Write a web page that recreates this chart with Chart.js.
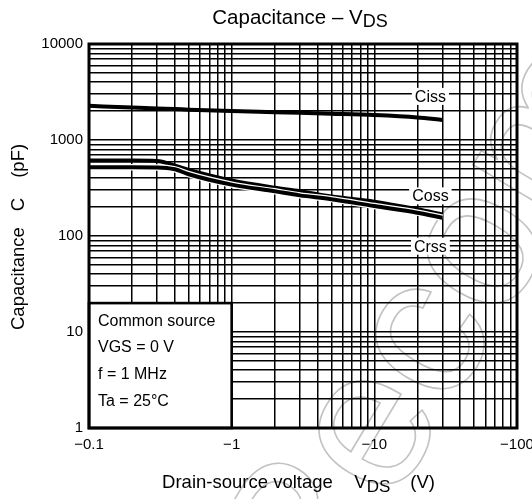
<!DOCTYPE html>
<html>
<head>
<meta charset="utf-8">
<script src="https://cdn.jsdelivr.net/npm/chart.js@4"></script>
<style>
  html, body { margin: 0; padding: 0; background: #fff; }
  canvas { display: block; }
</style>
</head>
<body>
<canvas id="chart" width="532" height="499"></canvas>
<script>
// Drain-source voltage (V) at which the capacitances are read
const vds  = [-0.1, -0.2, -0.3, -0.4, -0.5, -1, -2, -3, -5, -10, -20, -30];
// Capacitances (pF)
const ciss = [2270, 2180, 2130, 2100, 2070, 2000, 1950, 1920, 1880, 1820, 1720, 1620];
const coss = [610, 610, 605, 540, 488, 378, 318, 293, 258, 228, 190, 168];
const crss = [520, 520, 518, 495, 440, 343, 292, 265, 242, 205, 175, 155];

const seriesNames = ['Ciss', 'Coss', 'Crss'];

// Axis decades and their labels
const xMajor = [0.1, 1, 10, 100];
const xTickLabels = ['\u22120.1', '\u22121', '\u221210', '\u2212100'];
const yMajor = [1, 10, 100, 1000, 10000];
const yTickLabels = ['1', '10', '100', '1000', '10000'];

// Measurement conditions
const conditions = ['Common source', 'VGS = 0 V', 'f = 1 MHz', 'Ta = 25\u00B0C'];
const conditionBox = { xFrom: -0.1, xTo: -1, yFrom: 1, yTo: 20 };

const FONT = '"Liberation Sans", Arial, Helvetica, sans-serif';

// 1..9 grid lines in every decade
function decadeGrid(major) {
  const out = [];
  for (let i = 0; i < major.length - 1; i++) {
    for (let m = 1; m <= 9; m++) out.push(Number((m * major[i]).toPrecision(6)));
  }
  out.push(major[major.length - 1]);
  return out;
}
const xGrid = decadeGrid(xMajor);
const yGrid = decadeGrid(yMajor);

function labelFor(value, major, labels) {
  for (let i = 0; i < major.length; i++) {
    if (Math.abs(Math.log10(value) - Math.log10(major[i])) < 1e-9) return labels[i];
  }
  return '';
}

const toPoints = arr => vds.map((v, i) => ({ x: -v, y: arr[i] }));

const lineStyle = {
  borderColor: '#000',
  borderWidth: 4,
  pointRadius: 0,
  fill: false,
  cubicInterpolationMode: 'monotone'
};

function drawPieces(ctx, pieces, startX, baseline) {
  let x = startX;
  for (const p of pieces) {
    if (p.gap) { x += p.gap; continue; }
    ctx.font = p.size + 'px ' + FONT;
    ctx.fillText(p.t, x, baseline + (p.drop || 0));
    x += ctx.measureText(p.t).width;
  }
}
function piecesWidth(ctx, pieces) {
  let w = 0;
  for (const p of pieces) {
    if (p.gap) { w += p.gap; continue; }
    ctx.font = p.size + 'px ' + FONT;
    w += ctx.measureText(p.t).width;
  }
  return w;
}

const decor = {
  id: 'decor',
  beforeDraw(chart) {
    const ctx = chart.ctx;
    ctx.save();
    ctx.fillStyle = '#fff';
    ctx.fillRect(0, 0, chart.width, chart.height);
    // outlined background lettering
    ctx.translate(316, 631);
    ctx.rotate(-59 * Math.PI / 180);
    ctx.font = '200px ' + FONT;
    ctx.strokeStyle = '#c2c2c2';
    ctx.lineWidth = 1.6;
    ctx.strokeText('Recommended', 0, 0);
    ctx.restore();
  },
  beforeDatasetsDraw(chart) {
    const ctx = chart.ctx;
    const xs = chart.scales.x, ys = chart.scales.y;
    const l = xs.getPixelForValue(-conditionBox.xFrom);
    const r = xs.getPixelForValue(-conditionBox.xTo);
    const t = ys.getPixelForValue(conditionBox.yTo);
    const b = ys.getPixelForValue(conditionBox.yFrom);
    ctx.save();
    ctx.fillStyle = '#fff';
    ctx.fillRect(l, t, r - l, b - t);
    ctx.strokeStyle = '#000';
    ctx.lineWidth = 2.6;
    ctx.strokeRect(l, t, r - l, b - t);
    ctx.fillStyle = '#000';
    ctx.font = '16px ' + FONT;
    ctx.textAlign = 'left';
    ctx.textBaseline = 'alphabetic';
    conditions.forEach((s, i) => ctx.fillText(s, l + 9, t + 22.5 + i * 26.7));
    ctx.restore();
  },
  afterDatasetsDraw(chart) {
    const ctx = chart.ctx;
    const a = chart.chartArea;
    const xs = chart.scales.x, ys = chart.scales.y;
    ctx.save();
    // frame
    ctx.strokeStyle = '#000';
    ctx.lineWidth = 3;
    ctx.strokeRect(a.left, a.top, a.right - a.left, a.bottom - a.top);
    // curve names near the curve ends
    const last = vds.length - 1;
    const ends = [ciss[last], coss[last], crss[last]];
    const offsets = [-18, -13, 34];
    const endX = xs.getPixelForValue(-vds[last]);
    ctx.font = '16px ' + FONT;
    ctx.textAlign = 'center';
    ctx.textBaseline = 'alphabetic';
    seriesNames.forEach((name, i) => {
      const base = ys.getPixelForValue(ends[i]) + offsets[i];
      const cx = endX - 12;
      const w = ctx.measureText(name).width;
      ctx.fillStyle = '#fff';
      ctx.fillRect(cx - w / 2 - 3, base - 14, w + 6, 17);
      ctx.fillStyle = '#000';
      ctx.fillText(name, cx, base);
    });
    ctx.restore();
  },
  afterDraw(chart) {
    const ctx = chart.ctx;
    ctx.save();
    ctx.fillStyle = '#000';
    ctx.textAlign = 'left';
    ctx.textBaseline = 'alphabetic';
    // chart title
    const title = [{ t: 'Capacitance \u2013 V', size: 20.5 }, { t: 'DS', size: 18, drop: 3 }];
    drawPieces(ctx, title, 300 - piecesWidth(ctx, title) / 2, 24);
    // x axis title
    const xt = [
      { t: 'Drain-source voltage', size: 18.5 }, { gap: 21.5 },
      { t: 'V', size: 18.5 }, { t: 'DS', size: 17, drop: 4 }, { gap: 20 },
      { t: '(V)', size: 18.5 }
    ];
    drawPieces(ctx, xt, 298.5 - piecesWidth(ctx, xt) / 2, 488);
    // y axis title
    const yt = [
      { t: 'Capacitance', size: 18.5 }, { gap: 16 },
      { t: 'C', size: 18.5 }, { gap: 20 },
      { t: '(pF)', size: 18.5 }
    ];
    ctx.translate(24, 330);
    ctx.rotate(-Math.PI / 2);
    drawPieces(ctx, yt, 0, 0);
    ctx.restore();
  }
};

new Chart(document.getElementById('chart'), {
  type: 'line',
  data: {
    datasets: [
      Object.assign({ label: seriesNames[0], data: toPoints(ciss), order: 0 }, lineStyle),
      Object.assign({ label: seriesNames[2], data: toPoints(crss), order: 1 }, lineStyle),
      Object.assign({ label: seriesNames[2] + ' edge', data: toPoints(crss), order: 2 }, lineStyle,
        { borderColor: '#fff', borderWidth: 6.5 }),
      Object.assign({ label: seriesNames[1], data: toPoints(coss), order: 3 }, lineStyle)
    ]
  },
  options: {
    responsive: false,
    animation: false,
    events: [],
    layout: { padding: { top: 44, right: 15, left: 0, bottom: 0 } },
    plugins: {
      legend: { display: false },
      tooltip: { enabled: false },
      title: { display: false }
    },
    scales: {
      x: {
        type: 'logarithmic',
        position: 'bottom',
        min: xMajor[0],
        max: xMajor[xMajor.length - 1],
        afterBuildTicks: s => { s.ticks = xGrid.map(v => ({ value: v })); },
        afterFit: s => { s.height = 71; s.paddingLeft = 0; s.paddingRight = 0; },
        grid: { color: '#000', lineWidth: 1.5, drawTicks: false },
        border: { display: false },
        ticks: {
          autoSkip: false, maxRotation: 0, minRotation: 0, padding: 8, color: '#000',
          font: { family: FONT, size: 15 },
          callback: v => labelFor(v, xMajor, xTickLabels)
        }
      },
      y: {
        type: 'logarithmic',
        position: 'left',
        min: yMajor[0],
        max: yMajor[yMajor.length - 1],
        afterBuildTicks: s => { s.ticks = yGrid.map(v => ({ value: v })); },
        afterFit: s => { s.width = 89; s.paddingTop = 0; s.paddingBottom = 0; },
        grid: { color: '#000', lineWidth: 1.5, drawTicks: false },
        border: { display: false },
        ticks: {
          autoSkip: false, padding: 6, color: '#000',
          font: { family: FONT, size: 15 },
          callback: v => labelFor(v, yMajor, yTickLabels)
        }
      }
    }
  },
  plugins: [decor]
});
</script>
</body>
</html>
